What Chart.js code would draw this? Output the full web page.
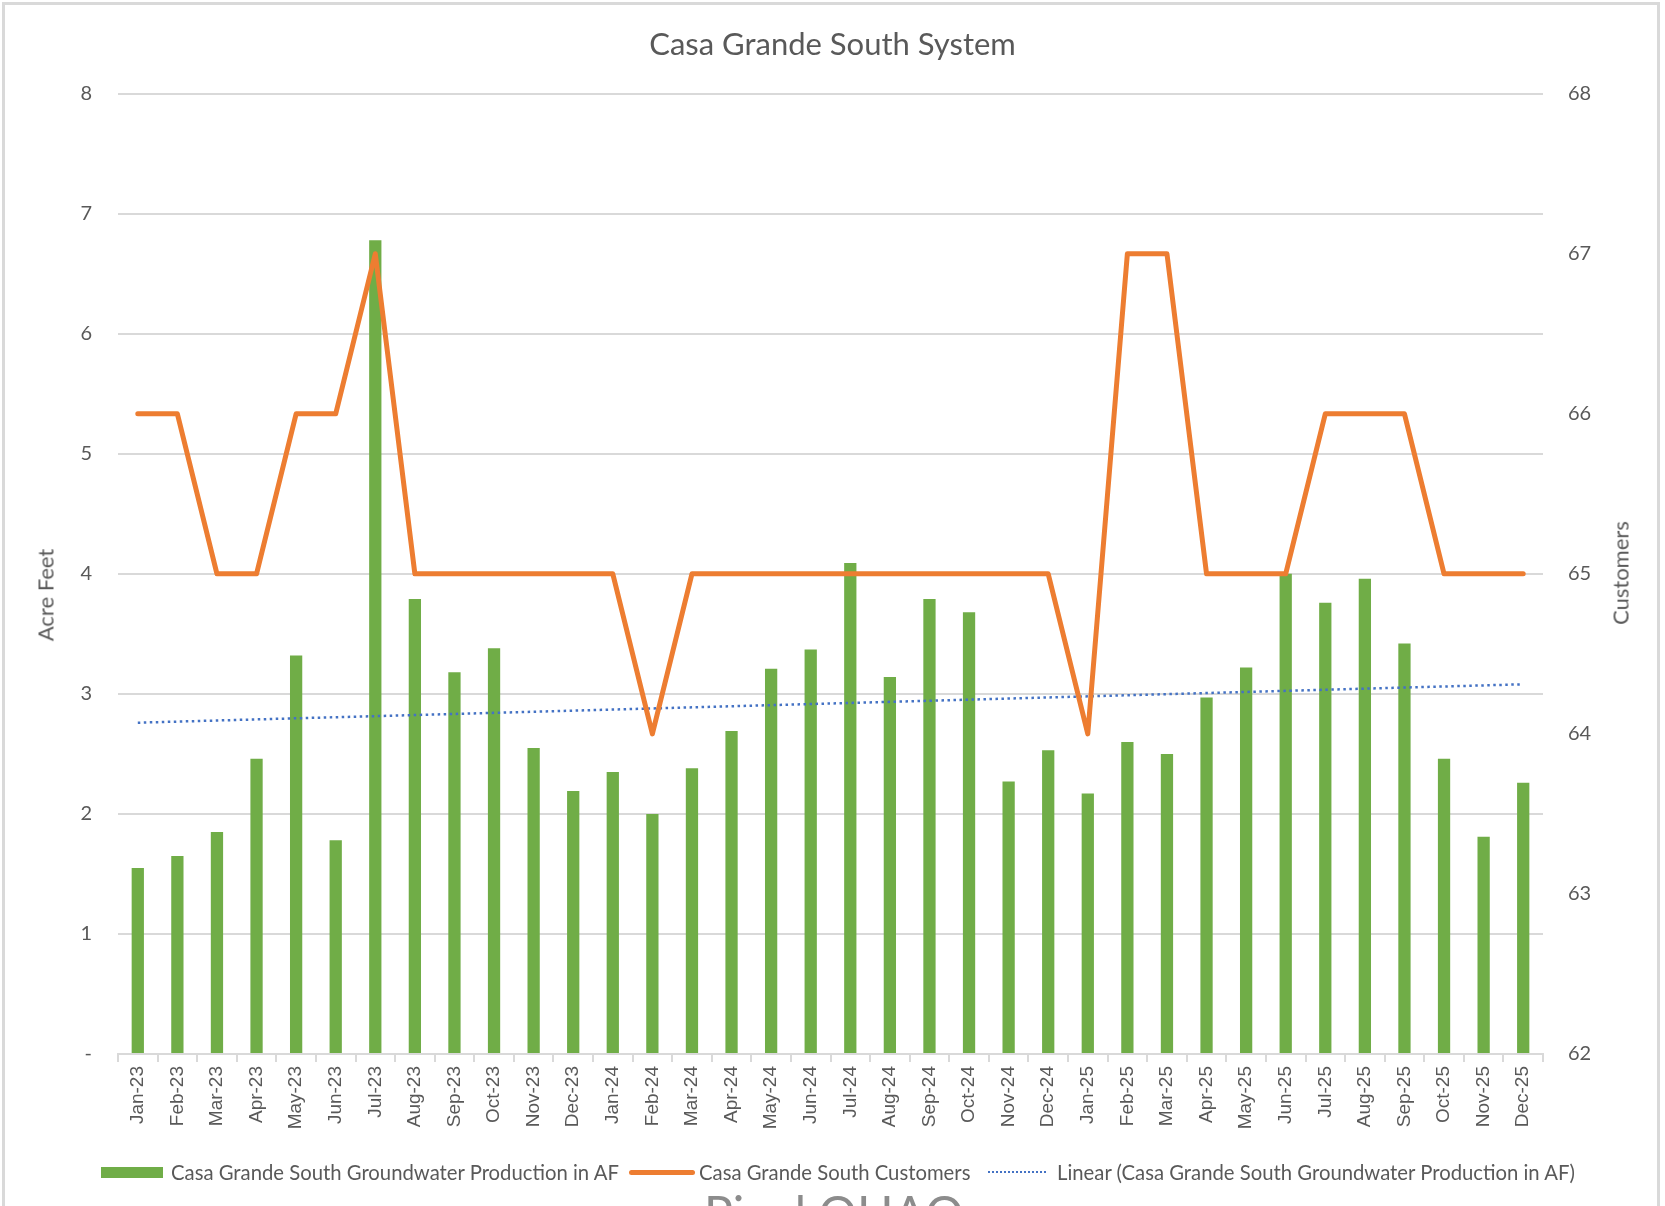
<!DOCTYPE html>
<html>
<head>
<meta charset="utf-8">
<script src="https://cdn.jsdelivr.net/npm/chart.js@4.4.0/dist/chart.umd.min.js"></script>
<style>
  body { margin: 0; background: #fff; overflow: hidden; }
  #wrap { position: relative; width: 1665px; height: 1206px; overflow: hidden; }
  #frame { position: absolute; left: 2px; top: 2px; width: 1658px; height: 1240px; border: 3px solid #d9d9d9; box-sizing: border-box; }
  canvas { position: absolute; left: 0; top: 0; }
  .axt { position: absolute; font-family: Lato, sans-serif; font-size: 22px; color: #595959; white-space: nowrap; transform: translate(-50%, -50%) rotate(-90deg); }
  #legend { position: absolute; top: 1160px; left: 0; height: 24px; font-family: Lato, sans-serif; font-size: 20.3px; color: #595959; }
  .li { position: absolute; top: 0; white-space: nowrap; line-height: 24px; }
  .sw { position: absolute; }
  #footer { position: absolute; left: 704px; top: 1184px; font-family: Lato, sans-serif; font-size: 48px; color: #8c8c8c; white-space: nowrap; }
</style>
</head>
<body>
<div id="wrap">
  <div id="frame"></div>
  <canvas id="chart" width="1665" height="1206"></canvas>
  <div class="axt" style="left:45px; top:595px;">Acre Feet</div>
  <div class="axt" style="left:1620px; top:573px;">Customers</div>
  <div id="legend">
    <div class="sw" style="left:101px; top:7px; width:62px; height:11px; background:#70AD47;"></div>
    <div class="li" style="left:171px;">Casa Grande South Groundwater Production in AF</div>
    <div class="sw" style="left:629px; top:10px; width:66px; height:5px; border-radius:3px; background:#ED7D31;"></div>
    <div class="li" style="left:699px;">Casa Grande South Customers</div>
    <div class="sw" style="left:988px; top:11px; width:58px; height:0; border-top:2.5px dotted #4472C4;"></div>
    <div class="li" style="left:1057px;">Linear (Casa Grande South Groundwater Production in AF)</div>
  </div>
  <div id="footer">Pinal QHAQ</div>
</div>
<script>
const months = ['Jan-23','Feb-23','Mar-23','Apr-23','May-23','Jun-23','Jul-23','Aug-23','Sep-23','Oct-23','Nov-23','Dec-23',
  'Jan-24','Feb-24','Mar-24','Apr-24','May-24','Jun-24','Jul-24','Aug-24','Sep-24','Oct-24','Nov-24','Dec-24',
  'Jan-25','Feb-25','Mar-25','Apr-25','May-25','Jun-25','Jul-25','Aug-25','Sep-25','Oct-25','Nov-25','Dec-25'];

// groundwater production, acre feet
const production = [1.55,1.65,1.85,2.46,3.32,1.78,6.78,3.79,3.18,3.38,2.55,2.19,
  2.35,2.00,2.38,2.69,3.21,3.37,4.09,3.14,3.79,3.68,2.27,2.53,
  2.17,2.60,2.50,2.97,3.22,4.00,3.76,3.96,3.42,2.46,1.81,2.26];

const customers = [66,66,65,65,66,66,67,65,65,65,65,65,
  65,64,65,65,65,65,65,65,65,65,65,65,
  64,67,67,65,65,65,66,66,66,65,65,65];

// linear trendline ends
const trendStart = 2.76;
const trendEnd = 3.08;

const leftTicks = [0,1,2,3,4,5,6,7,8];
const rightTicks = [62,63,64,65,66,67,68];

const trend = months.map((m, i) => i === 0 ? trendStart : (i === months.length - 1 ? trendEnd : null));

const grey = '#595959';
const gridGrey = '#d9d9d9';

new Chart(document.getElementById('chart'), {
  data: {
    labels: months,
    datasets: [
      {
        type: 'line',
        label: 'Casa Grande South Customers',
        data: customers,
        yAxisID: 'y1',
        borderColor: '#ED7D31',
        borderWidth: 5,
        borderJoinStyle: 'round',
        borderCapStyle: 'round',
        pointRadius: 0,
        tension: 0,
        order: 1
      },
      {
        type: 'line',
        label: 'Linear (Casa Grande South Groundwater Production in AF)',
        data: trend,
        yAxisID: 'y',
        borderColor: '#4472C4',
        borderWidth: 2.5,
        borderDash: [2.5, 3.5],
        pointRadius: 0,
        spanGaps: true,
        order: 2
      },
      {
        type: 'bar',
        label: 'Casa Grande South Groundwater Production in AF',
        data: production,
        yAxisID: 'y',
        backgroundColor: '#70AD47',
        barPercentage: 0.31,
        categoryPercentage: 1,
        order: 3
      }
    ]
  },
  options: {
    responsive: false,
    animation: false,
    layout: { padding: { left: 0, right: 0, top: 0, bottom: 0 } },
    plugins: {
      legend: { display: false },
      tooltip: { enabled: false },
      title: {
        display: true,
        text: 'Casa Grande South System',
        color: grey,
        font: { family: 'Lato', size: 31, weight: 'normal' },
        padding: { top: 26, bottom: 30.5 }
      }
    },
    scales: {
      x: {
        offset: true,
        grid: { offset: true, drawOnChartArea: false, color: gridGrey, lineWidth: 2, tickLength: 8 },
        border: { display: true, color: gridGrey, width: 2 },
        ticks: {
          autoSkip: false, maxRotation: 90, minRotation: 90, padding: 4,
          color: grey, font: { family: 'Liberation Sans', size: 19 }
        },
        afterFit: s => { s.height = 152; }
      },
      y: {
        position: 'left',
        min: 0, max: 8,
        afterBuildTicks: s => { s.ticks = leftTicks.map(v => ({ value: v })); },
        grid: { color: gridGrey, lineWidth: 2, drawTicks: false },
        border: { display: false },
        ticks: {
          padding: 26, color: grey, font: { family: 'Lato', size: 20 },
          callback: v => v === 0 ? '-' : v
        },
        afterFit: s => { s.width = 118; }
      },
      y1: {
        position: 'right',
        min: 62, max: 68,
        afterBuildTicks: s => { s.ticks = rightTicks.map(v => ({ value: v })); },
        grid: { drawOnChartArea: false, drawTicks: false },
        border: { display: false },
        ticks: { padding: 25, color: grey, font: { family: 'Lato', size: 20 } },
        afterFit: s => { s.width = 122; }
      }
    }
  }
});
</script>
</body>
</html>
